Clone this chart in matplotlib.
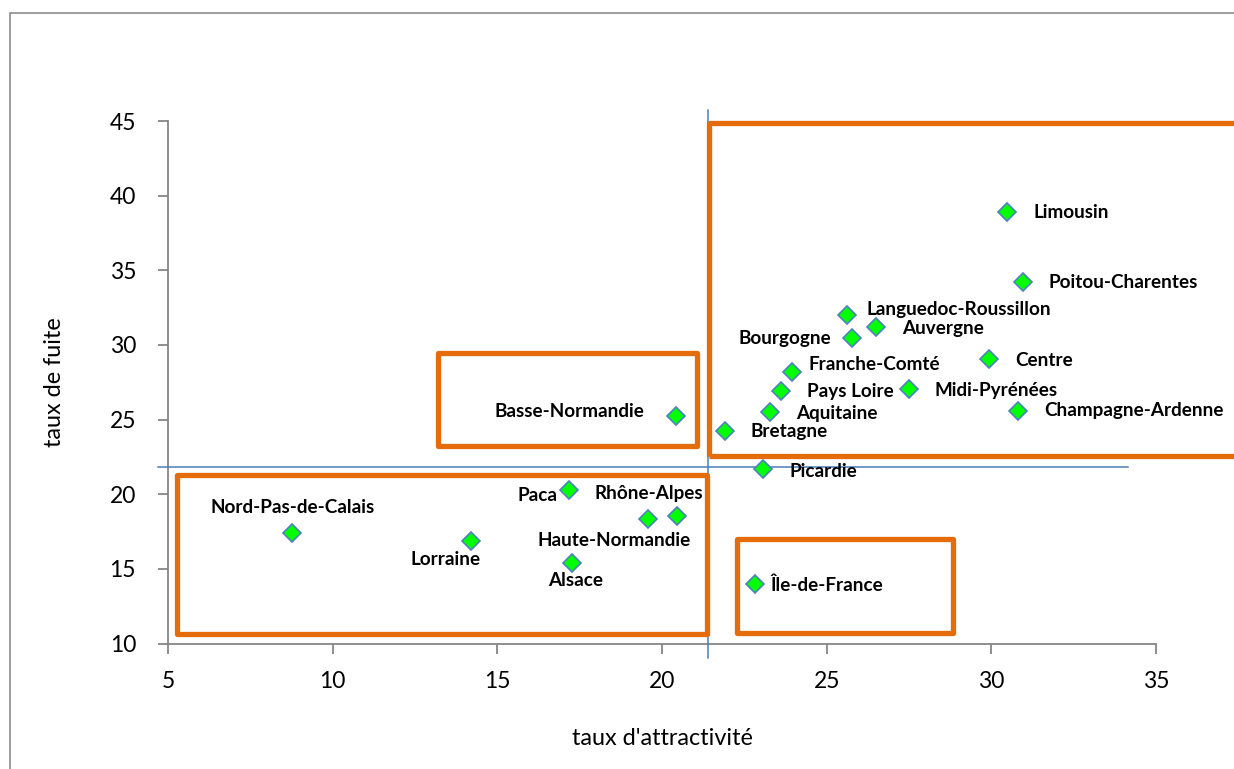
import matplotlib
matplotlib.use("Agg")
import matplotlib.pyplot as plt
from matplotlib.patches import Rectangle

# data
regions = ["Limousin", "Poitou-Charentes", "Languedoc-Roussillon", "Auvergne",
           "Bourgogne", "Centre", "Franche-Comté", "Pays Loire", "Midi-Pyrénées",
           "Aquitaine", "Bretagne", "Picardie", "Champagne-Ardenne",
           "Nord-Pas-de-Calais", "Lorraine", "Paca", "Haute-Normandie",
           "Rhône-Alpes", "Alsace", "Basse-Normandie", "Île-de-France"]
attractivite = [30.48, 30.96, 25.61, 26.5, 25.76, 29.94, 23.96, 23.62, 27.5,
                23.29, 21.91, 23.08, 30.81, 8.77, 14.19, 17.18, 19.57, 20.47,
                17.27, 20.43, 22.83]
fuite = [38.93, 34.2, 32.03, 31.19, 30.47, 29.06, 28.19, 26.94, 27.03, 25.49,
         24.26, 21.67, 25.6, 17.41, 16.89, 20.27, 18.35, 18.57, 15.4, 25.26, 13.97]

x_ticks = [5, 10, 15, 20, 25, 30, 35]
y_ticks = [10, 15, 20, 25, 30, 35, 40, 45]

# separating lines (mean values) and highlight boxes (x0, y0, x1, y1)
x_sep = 21.39
y_sep = 21.85
boxes = [(21.44, 22.59, 38.5, 44.84),
         (13.2, 23.25, 21.05, 29.44),
         (5.27, 10.67, 21.37, 21.31),
         (22.29, 10.69, 28.85, 17.0)]

# label placement: (dx, dy) in pixels, horizontal alignment
label_pos = {
    "Limousin": (26, -1, "left"),
    "Poitou-Charentes": (26, 0, "left"),
    "Languedoc-Roussillon": (20, 5, "left"),
    "Auvergne": (26, -1, "left"),
    "Bourgogne": (-20, -1, "right"),
    "Centre": (26, -1, "left"),
    "Franche-Comté": (16, 7, "left"),
    "Pays Loire": (26, -1, "left"),
    "Midi-Pyrénées": (26, -1, "left"),
    "Aquitaine": (26, -1, "left"),
    "Bretagne": (26, -1, "left"),
    "Picardie": (26, -2, "left"),
    "Champagne-Ardenne": (26, 0, "left"),
    "Nord-Pas-de-Calais": (0, 25, "center"),
    "Lorraine": (-25, -19, "center"),
    "Paca": (-12, -5, "right"),
    "Rhône-Alpes": (-29, 22, "center"),
    "Haute-Normandie": (-34, -22, "center"),
    "Alsace": (4, -18, "center"),
    "Basse-Normandie": (-32, 4, "right"),
    "Île-de-France": (15, -1, "left"),
}

plt.rcParams['font.family'] = ['Lato', 'DejaVu Sans']

fig = plt.figure(figsize=(12.34, 7.69), dpi=100)
ax = fig.add_axes([168 / 1234, 1 - 643.6 / 769, 988 / 1234, 522.6 / 769])

# outer chart frame
fig.patches.append(Rectangle((10 / 1234, -0.1), 1.2, 1.1 - 13 / 769,
                             transform=fig.transFigure, fill=False,
                             edgecolor='#8c8c8c', linewidth=1.2))

ax.plot(attractivite, fuite, linestyle='none', marker='D', markersize=9,
        markerfacecolor='#00ff00', markeredgecolor='#4f81bd',
        markeredgewidth=1.2, zorder=5)

for name, x, y in zip(regions, attractivite, fuite):
    dx, dy, ha = label_pos[name]
    ax.annotate(name, (x, y), xytext=(dx, dy), textcoords='offset pixels',
                ha=ha, va='center', fontsize=13.6, fontweight='bold',
                color='black', zorder=6, annotation_clip=False)

ax.plot([x_sep, x_sep], [45.74, 9.04], color='#4a7ebb', linewidth=1.1,
        clip_on=False, zorder=3)
ax.plot([4.7, 34.14], [y_sep, y_sep], color='#4a7ebb', linewidth=1.1,
        clip_on=False, zorder=3)

for x0, y0, x1, y1 in boxes:
    ax.add_patch(Rectangle((x0, y0), x1 - x0, y1 - y0, fill=False,
                           edgecolor='#e46c0a', linewidth=3.8,
                           joinstyle='round', clip_on=False, zorder=4))

ax.set_xlim(5, 35)
ax.set_ylim(10, 45)
ax.set_xticks(x_ticks)
ax.set_yticks(y_ticks)
for s in ['top', 'right']:
    ax.spines[s].set_visible(False)
for s in ['left', 'bottom']:
    ax.spines[s].set_color('#868686')
    ax.spines[s].set_linewidth(1.3)
ax.tick_params(axis='both', colors='#868686', labelcolor='black',
               labelsize=16.5, length=7, width=1.3, direction='out')
ax.tick_params(axis='x', pad=13)
ax.tick_params(axis='y', pad=16)

ax.set_xlabel("taux d'attractivité", fontsize=16.8, labelpad=26)
ax.set_ylabel("taux de fuite", fontsize=16.8, labelpad=32)

fig.savefig("out.png", dpi=100)
